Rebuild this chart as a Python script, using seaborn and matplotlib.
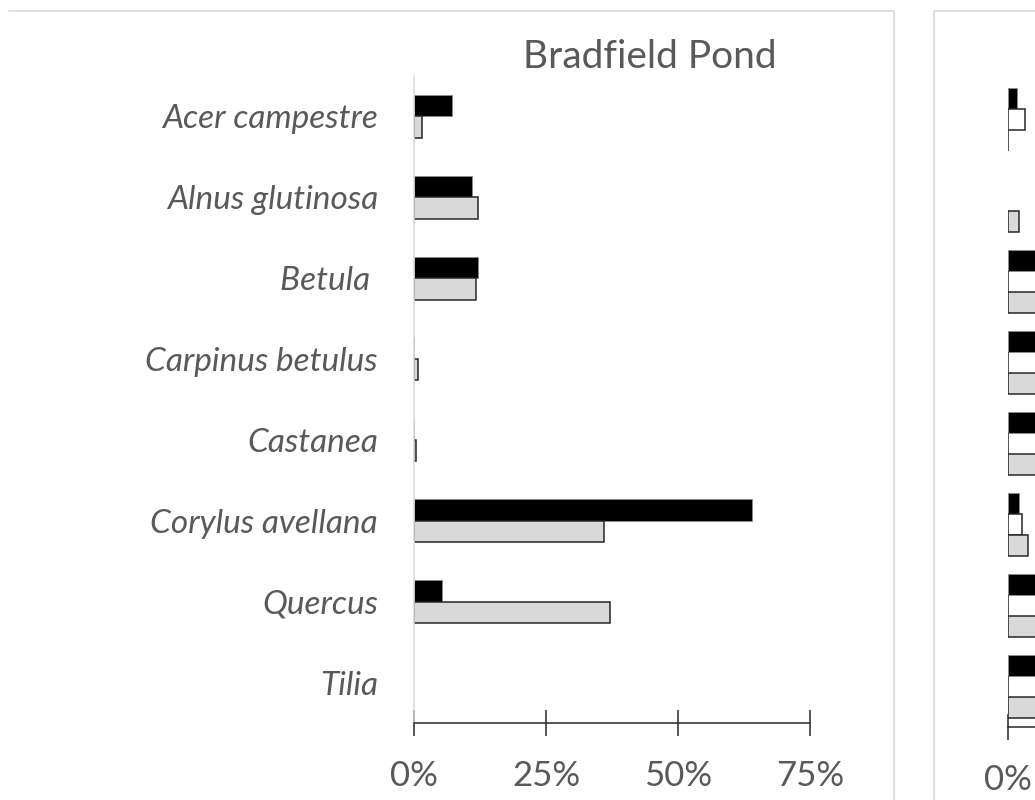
import numpy as np
import pandas as pd
import matplotlib
matplotlib.use('Agg')
import matplotlib.pyplot as plt
from matplotlib.lines import Line2D
import seaborn as sns

sns.set_style('white')
plt.rcParams['font.family'] = ['Lato', 'DejaVu Sans']

# left panel data (percent)
taxa = ['Acer campestre', 'Alnus glutinosa', 'Betula ', 'Carpinus betulus',
        'Castanea', 'Corylus avellana', 'Quercus', 'Tilia']
black_vals = [7.2, 11.0, 12.1, 0.0, 0.0, 64.0, 5.3, np.nan]
grey_vals = [1.5, 12.1, 11.7, 0.7, 0.3, 36.0, 37.1, np.nan]

# right panel (only the left edge is visible)
right_black = [1.7, np.nan, 14.0, 15.0, 13.0, 2.1, 16.0, 12.0]
right_white = [3.2, np.nan, 0.0, 0.0, 0.0, 2.7, 0.0, 0.0]
right_grey = [0.0, 2.1, 12.0, 11.0, 10.0, 3.8, 9.0, 14.0]

xticks = [0, 25, 50, 75]
xticklabels = ['0%', '25%', '50%', '75%']

TXT = '#595959'
W, H = 1035, 800


def long_df(cats, series):
    rows = []
    for name, vals in series:
        for c, v in zip(cats, vals):
            if not np.isnan(v):
                rows.append({'taxon': c, 'series': name, 'pct': v})
    return pd.DataFrame(rows)


def style_bars(ax, styles):
    for cont, (fc, ec, lw) in zip(ax.containers, styles):
        for p in cont:
            p.set_facecolor(fc)
            p.set_edgecolor(ec)
            p.set_linewidth(lw)


def style_axis(ax):
    ax.set_xlim(0, 75)
    ax.set_ylim(7.5, -0.5)
    ax.set_xlabel('')
    ax.set_ylabel('')
    for s in ['top', 'right']:
        ax.spines[s].set_visible(False)
    ax.spines['bottom'].set_color('#262626')
    ax.spines['bottom'].set_linewidth(1.1)
    ax.tick_params(axis='x', bottom=True, direction='inout', length=19,
                   width=1.1, color='#262626', pad=17, labelsize=25,
                   labelcolor=TXT)
    ax.tick_params(axis='y', length=0)


def frame_line(fig, xs, ys):
    fig.add_artist(Line2D([x / W for x in xs], [1 - y / H for y in ys],
                          transform=fig.transFigure, color='#d9d9d9',
                          linewidth=1.2))


fig = plt.figure(figsize=(W / 100, H / 100), dpi=100)

# panel frames
frame_line(fig, [9, 894, 894], [11, 11, 810])
frame_line(fig, [934, 934, 1040], [810, 11, 11])

# left panel
ax = fig.add_axes([414 / W, (H - 723) / H, (810 - 414) / W, 647 / H])
df = long_df(taxa, [('a', black_vals), ('b', grey_vals)])
sns.barplot(data=df, y='taxon', x='pct', hue='series', order=taxa,
            hue_order=['a', 'b'], orient='h', width=0.53, legend=False,
            palette=['black', '#d9d9d9'], ax=ax)
style_bars(ax, [('black', '#8c8c8c', 0.6), ('#d9d9d9', '#262626', 1.1)])
style_axis(ax)
ax.set_xticks(xticks)
ax.set_xticklabels(xticklabels)
ax.spines['left'].set_color('#d9d9d9')
ax.spines['left'].set_linewidth(1.1)
ax.set_yticks(range(len(taxa)))
ax.set_yticklabels(taxa, fontstyle='italic', fontsize=24, color=TXT)
ax.tick_params(axis='y', pad=26)
ax.set_title('Bradfield Pond', fontsize=28, color=TXT, x=0.596, pad=6)

# right panel (cut off by the figure edge)
ax2 = fig.add_axes([1008 / W, (H - 727) / H, (1404 - 1008) / W, 648 / H])
df2 = long_df(taxa, [('a', right_black), ('b', right_white), ('c', right_grey)])
sns.barplot(data=df2, y='taxon', x='pct', hue='series', order=taxa,
            hue_order=['a', 'b', 'c'], orient='h', width=0.77, legend=False,
            palette=['black', 'white', '#d9d9d9'], ax=ax2)
style_bars(ax2, [('black', '#8c8c8c', 0.6), ('white', '#262626', 1.1),
                 ('#d9d9d9', '#262626', 1.1)])
style_axis(ax2)
ax2.set_xticks([0])
ax2.set_xticklabels(['0%'])
ax2.spines['left'].set_visible(False)
ax2.set_yticks([])

fig.savefig('out.png', dpi=100)
